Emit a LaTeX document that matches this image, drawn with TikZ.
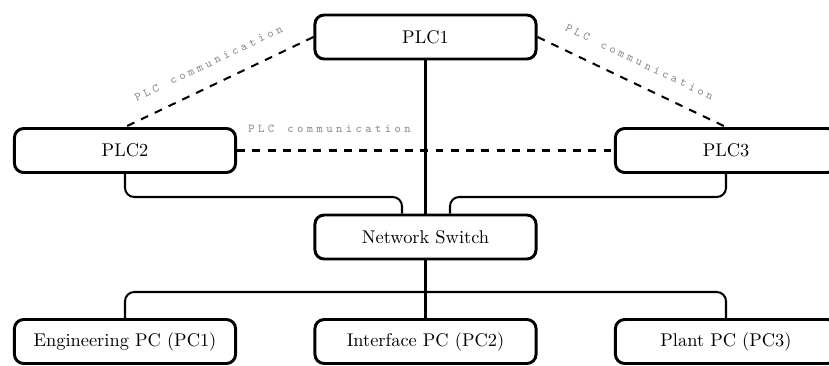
\documentclass[tikz,border=0pt]{standalone}
\usepackage{fontspec}
\usetikzlibrary{calc}
\makeatletter
\newcommand{\lsp}[1]{\lsp@a#1\relax}
\def\lsp@a#1{\ifx#1\relax\else#1\kern1.85pt\expandafter\lsp@a\fi}
\makeatother
\newcommand{\lblfont}{\ttfamily\fontsize{6.5}{8}\selectfont}
\tikzset{
  box/.style={draw, line width=1.6pt, rounded corners=5pt, minimum width=120.2pt, minimum height=23.9pt, inner sep=2pt, font=\normalsize},
  conn/.style={draw, line width=1.1pt, rounded corners=5pt},
  comm/.style={draw, line width=1.1pt, dash pattern=on 4.3pt off 4pt},
  lbl/.style={text=black!45, font=\lblfont, inner sep=2pt}
}
\begin{document}
\begin{tikzpicture}[x=0.5435pt, y=-0.5435pt]
\useasboundingbox (0,0) rectangle (829,365);
\node[box] (plc1) at (425.5,37) {PLC1};
\node[box] (plc2) at (125,150.5) {PLC2};
\node[box] (plc3) at (726,150.5) {PLC3};
\node[box] (sw) at (425.5,237) {Network Switch};
\node[box] (pc1) at (125,341.5) {Engineering PC (PC1)};
\node[box] (pc2) at (425.5,341.5) {Interface PC (PC2)};
\node[box] (pc3) at (726,341.5) {Plant PC (PC3)};
\coordinate (jl) at (402,197);
\coordinate (jr) at (450,197);
\coordinate (bus) at (425.5,292);
% solid connectors
\draw[conn] (plc1.south) -- (sw.north);
\draw[conn] (plc2.south) |- (jl) -- (jl |- sw.north);
\draw[conn] (plc3.south) |- (jr) -- (jr |- sw.north);
\draw[conn] (sw.south) -- (pc2.north);
\draw[conn] (pc1.north) |- (bus) -| (pc3.north);
% dashed PLC communication
\draw[comm] (plc1.west) -- node[lbl, midway, above=7pt, sloped] {\lsp{PLC~communication}} (plc2.north);
\draw[comm] (plc1.east) -- node[lbl, midway, above=7pt, sloped] {\lsp{PLC~communication}} (plc3.north);
\draw[comm] (plc2.east) -- node[lbl, pos=0.25, above=7pt] {\lsp{PLC~communication}} (plc3.west);
\end{tikzpicture}
\end{document}
